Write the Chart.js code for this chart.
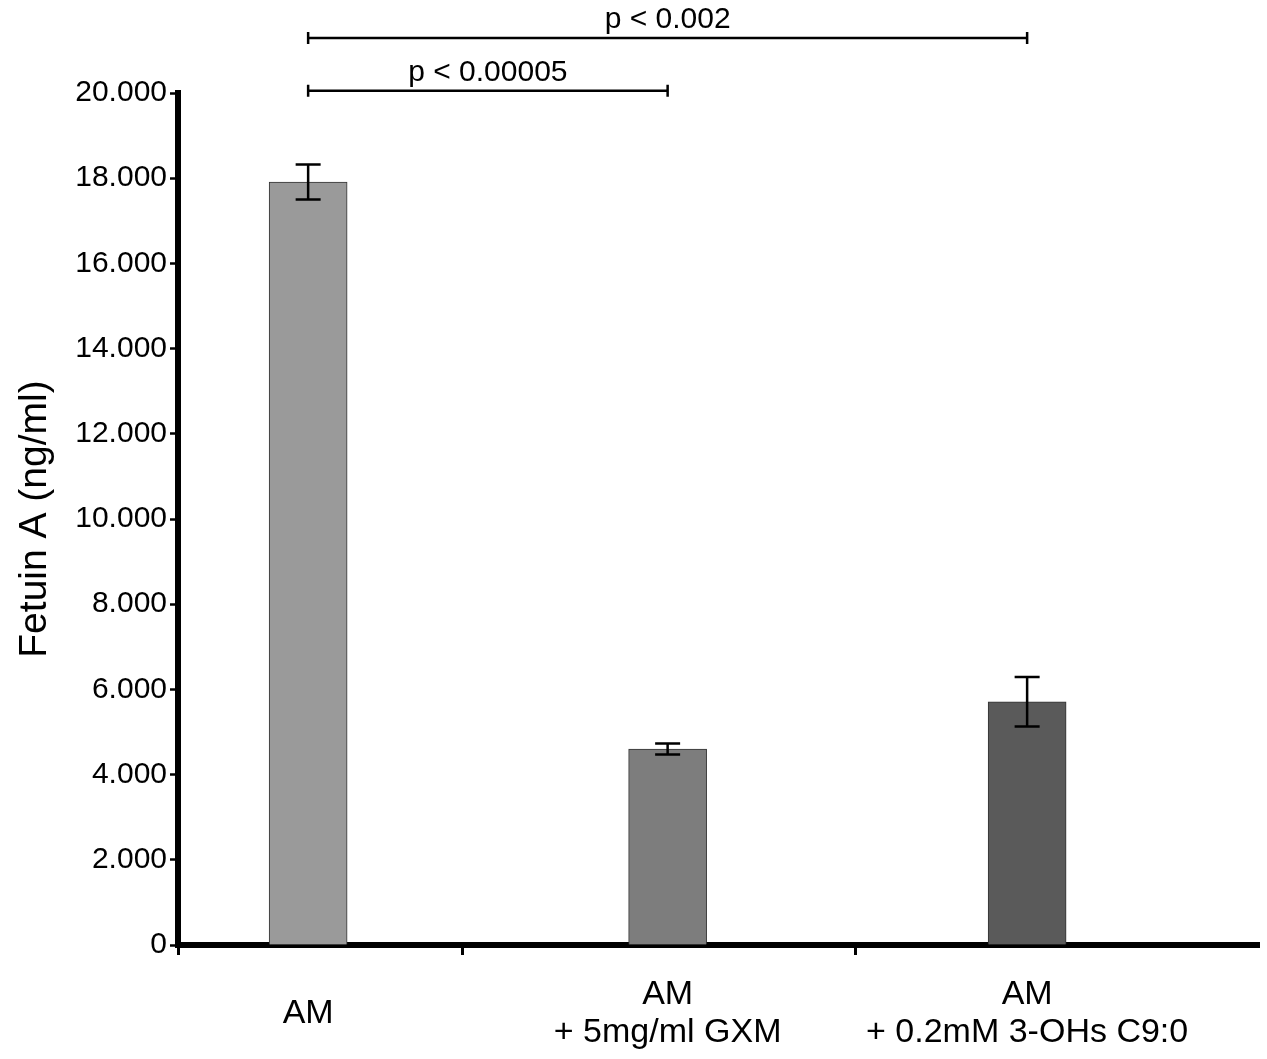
<!DOCTYPE html>
<html lang="en">
<head>
  <meta charset="UTF-8" />
  <title>Fetuin A</title>
  <script src="https://cdn.jsdelivr.net/npm/chart.js"></script>
  <style>
    html, body { margin: 0; padding: 0; background: #fff; }
    #wrap { width: 1267px; height: 1059px; }
  </style>
</head>
<body>
  <div id="wrap"><canvas id="fetuinChart"></canvas></div>

  <script>
    // values (ng/ml, in thousands as on the axis)
    const categories = [
      ['AM'],
      ['AM', '+ 5mg/ml GXM'],
      ['AM', '+ 0.2mM 3-OHs C9:0']
    ];
    const means = [17.91, 4.60, 5.71];
    const errors = [0.41, 0.13, 0.58];
    const barColors = ['#9a9a9a', '#7d7d7d', '#5a5a5a'];
    const yTicks = [0, 2, 4, 6, 8, 10, 12, 14, 16, 18, 20];
    const xMin = -0.362;
    const xMax = 2.645;
    const xTickMarks = [xMin, 0.43, 1.523];
    // significance brackets: from category, to category, level, label
    const brackets = [
      { from: 0, to: 1, level: 20.05, label: 'p < 0.00005' },
      { from: 0, to: 2, level: 21.29, label: 'p < 0.002' }
    ];

    const FONT = '"Liberation Sans", Arial, sans-serif';

    const errorBars = {
      id: 'errorBars',
      afterDatasetsDraw(chart) {
        const { ctx, scales: { x, y } } = chart;
        ctx.save();
        ctx.strokeStyle = '#000';
        ctx.lineWidth = 2.5;
        means.forEach((m, i) => {
          const cx = x.getPixelForValue(i);
          const top = y.getPixelForValue(m + errors[i]);
          const bot = y.getPixelForValue(m - errors[i]);
          ctx.beginPath();
          ctx.moveTo(cx, top); ctx.lineTo(cx, bot);
          ctx.moveTo(cx - 12.5, top); ctx.lineTo(cx + 12.5, top);
          ctx.moveTo(cx - 12.5, bot); ctx.lineTo(cx + 12.5, bot);
          ctx.stroke();
        });
        ctx.restore();
      }
    };

    const sigBrackets = {
      id: 'sigBrackets',
      afterDraw(chart) {
        const { ctx, scales: { x, y } } = chart;
        ctx.save();
        ctx.strokeStyle = '#000';
        ctx.fillStyle = '#000';
        ctx.lineWidth = 2.5;
        ctx.font = '30px ' + FONT;
        ctx.textAlign = 'center';
        ctx.textBaseline = 'alphabetic';
        brackets.forEach(b => {
          const x1 = x.getPixelForValue(b.from);
          const x2 = x.getPixelForValue(b.to);
          const py = y.getPixelForValue(b.level);
          ctx.beginPath();
          ctx.moveTo(x1, py); ctx.lineTo(x2, py);
          ctx.moveTo(x1, py - 6); ctx.lineTo(x1, py + 6);
          ctx.moveTo(x2, py - 6); ctx.lineTo(x2, py + 6);
          ctx.stroke();
          ctx.fillText(b.label, (x1 + x2) / 2, py - 10);
        });
        ctx.restore();
      }
    };

    new Chart(document.getElementById('fetuinChart').getContext('2d'), {
      type: 'bar',
      data: {
        datasets: [{
          data: means.map((m, i) => ({ x: i, y: m })),
          backgroundColor: barColors,
          borderColor: '#333',
          borderWidth: 1,
          barThickness: 78
        }]
      },
      options: {
        responsive: true,
        maintainAspectRatio: false,
        animation: false,
        layout: { padding: { top: 93, right: 8, left: 0, bottom: 0 } },
        plugins: {
          legend: { display: false },
          tooltip: { enabled: false }
        },
        scales: {
          x: {
            type: 'linear',
            min: xMin,
            max: xMax,
            offset: false,
            afterBuildTicks(scale) {
              scale.ticks = xTickMarks.concat([0, 1, 2]).map(v => ({ value: v }));
            },
            afterFit(scale) { scale.height = 114; },
            border: { display: true, color: '#000', width: 6 },
            grid: {
              offset: false,
              drawOnChartArea: false,
              drawTicks: true,
              tickLength: 10,
              tickWidth: 3,
              tickColor: c => (c.tick && Number.isInteger(c.tick.value)) ? 'rgba(0,0,0,0)' : '#000'
            },
            ticks: {
              autoSkip: false,
              maxRotation: 0,
              color: '#000',
              padding: 40,
              crossAlign: 'center',
              font: { family: FONT, size: 34, lineHeight: 1.1 },
              callback: v => Number.isInteger(v) && categories[v] ? categories[v] : ''
            }
          },
          y: {
            min: 0,
            max: 20,
            afterBuildTicks(scale) {
              scale.ticks = yTicks.map(v => ({ value: v }));
            },
            afterFit(scale) { scale.width = 178; },
            border: { display: true, color: '#000', width: 6 },
            grid: {
              drawOnChartArea: false,
              tickLength: 8,
              tickWidth: 2.5,
              tickColor: '#000'
            },
            ticks: {
              color: '#000',
              padding: 3,
              font: { family: FONT, size: 30 },
              callback: v => v === 0 ? '0' : v.toFixed(3)
            },
            title: {
              display: true,
              text: 'Fetuin A (ng/ml)',
              color: '#000',
              font: { family: FONT, size: 39 },
              padding: { top: 12, bottom: 0 }
            }
          }
        }
      },
      plugins: [errorBars, sigBrackets]
    });
  </script>
</body>
</html>
